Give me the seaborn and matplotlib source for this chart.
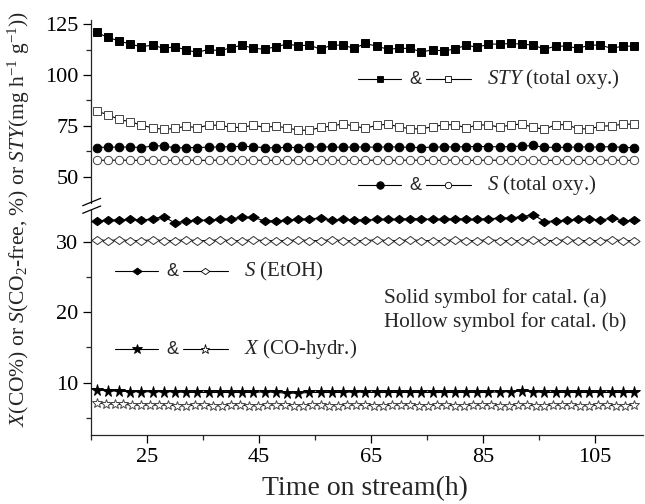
import numpy as np
import pandas as pd
import matplotlib
matplotlib.use("Agg")
import matplotlib.pyplot as plt
from matplotlib.lines import Line2D
import seaborn as sns

# ---------------- data ----------------
time_h = np.arange(16, 113, 2)            # sampling times, catal. (a)/(b)
time_conv_b = np.linspace(16, 112, 61)    # denser sampling of X(CO) for catal. (b)

sty_a = [121.0, 118.5, 116.8, 115.2, 113.9, 114.7, 113.1, 113.9, 112.3, 111.1,
         112.6, 111.9, 113.4, 114.7, 113.1, 112.7, 113.9, 115.2, 114.4, 114.7,
         112.7, 114.7, 114.7, 113.1, 115.5, 114.2, 112.7, 113.1, 113.1, 111.4,
         112.3, 111.9, 112.7, 114.7, 113.6, 115.2, 115.2, 115.5, 115.2, 114.7,
         112.7, 114.2, 114.2, 113.1, 114.7, 114.7, 113.1, 114.2, 114.2]
sty_b = [82.2, 80.5, 78.1, 77.0, 75.3, 74.0, 73.2, 73.7, 74.8, 74.0,
         75.3, 75.3, 74.2, 74.2, 75.3, 74.2, 74.8, 74.0, 72.8, 72.8,
         74.2, 74.8, 76.0, 74.8, 73.8, 75.2, 75.8, 74.5, 73.5, 73.5,
         74.5, 75.5, 75.5, 74.0, 75.3, 75.5, 74.2, 75.5, 75.8, 74.3,
         73.2, 75.6, 75.5, 73.5, 73.5, 74.8, 75.0, 75.8, 75.8]
sel_oxy_a = [64.3, 64.5, 64.5, 64.6, 64.3, 65.0, 65.2, 64.0, 64.3, 64.3,
             64.5, 64.6, 64.7, 64.9, 64.7, 64.2, 64.2, 64.4, 64.3, 64.5,
             64.6, 64.6, 64.4, 64.6, 64.5, 64.5, 64.6, 64.6, 64.4, 64.3,
             64.5, 64.6, 64.6, 64.7, 64.8, 64.8, 64.6, 64.8, 65.0, 65.3,
             64.4, 64.4, 64.4, 64.6, 64.6, 64.5, 64.8, 64.3, 64.3]
sel_oxy_b = [58.1, 58.0, 58.1, 58.0, 58.0, 58.1, 58.0, 58.0, 58.1, 58.0,
             58.0, 58.1, 58.0, 58.0, 58.1, 58.0, 58.0, 58.0, 58.1, 58.0,
             58.0, 58.1, 58.0, 58.0, 58.0, 58.1, 58.0, 58.0, 58.1, 58.0,
             58.0, 58.0, 58.1, 58.0, 58.0, 58.1, 58.0, 58.0, 58.0, 58.1,
             58.0, 58.0, 58.1, 58.0, 58.0, 58.0, 58.1, 58.0, 58.0]
sel_etoh_a = [33.0, 33.1, 33.1, 33.2, 33.1, 33.3, 33.6, 32.7, 33.0, 33.1,
              33.1, 33.2, 33.3, 33.5, 33.5, 33.0, 33.0, 33.1, 33.2, 33.3,
              33.4, 33.1, 33.2, 33.1, 33.1, 33.2, 33.2, 33.2, 33.3, 33.3,
              33.2, 33.2, 33.3, 33.2, 33.2, 33.3, 33.4, 33.4, 33.6, 33.9,
              32.9, 33.0, 33.1, 33.2, 33.3, 33.1, 33.4, 33.0, 33.1]
sel_etoh_b = [30.3, 30.2, 30.3, 30.2, 30.2, 30.3, 30.2, 30.2, 30.3, 30.2,
              30.2, 30.3, 30.2, 30.2, 30.3, 30.2, 30.2, 30.2, 30.3, 30.2,
              30.2, 30.3, 30.2, 30.2, 30.2, 30.3, 30.2, 30.2, 30.3, 30.2,
              30.2, 30.2, 30.3, 30.2, 30.2, 30.3, 30.2, 30.2, 30.2, 30.3,
              30.2, 30.2, 30.3, 30.2, 30.2, 30.2, 30.3, 30.2, 30.2]
conv_a = [9.0, 8.8, 8.8, 8.7, 8.7, 8.7, 8.7, 8.7, 8.6, 8.6,
          8.6, 8.6, 8.6, 8.6, 8.6, 8.7, 8.6, 8.5, 8.5, 8.6,
          8.6, 8.6, 8.6, 8.7, 8.6, 8.6, 8.6, 8.6, 8.6, 8.6,
          8.6, 8.6, 8.6, 8.6, 8.6, 8.6, 8.7, 8.7, 8.8, 8.7,
          8.6, 8.6, 8.6, 8.6, 8.6, 8.6, 8.6, 8.6, 8.6]
conv_b = [7.1, 7.0, 6.9, 6.9, 6.8, 6.8, 6.8, 6.8, 6.8, 6.7,
          6.7, 6.8, 6.8, 6.7, 6.7, 6.8, 6.8, 6.7, 6.7, 6.8,
          6.8, 6.8, 6.7, 6.7, 6.8, 6.8, 6.7, 6.7, 6.8, 6.8,
          6.8, 6.7, 6.7, 6.8, 6.8, 6.8, 6.7, 6.7, 6.8, 6.8,
          6.7, 6.7, 6.8, 6.8, 6.8, 6.7, 6.7, 6.8, 6.8, 6.7,
          6.7, 6.8, 6.8, 6.8, 6.7, 6.7, 6.8, 6.8, 6.7, 6.7, 6.8]

x_ticks = [25, 45, 65, 85, 105]
x_minor = [15, 35, 55, 75, 95]
y_ticks_low = [10, 20, 30]
y_minor_low = [5, 15, 25]
y_ticks_high = [50, 75, 100, 125]
y_minor_high = [62.5, 87.5, 112.5]

# ---------------- style ----------------
sns.set_style("ticks")
plt.rcParams["font.family"] = ["Liberation Serif", "DejaVu Serif"]
plt.rcParams["mathtext.fontset"] = "custom"
plt.rcParams["mathtext.rm"] = "Liberation Serif"
plt.rcParams["mathtext.it"] = "Liberation Serif:italic"
plt.rcParams["mathtext.bf"] = "Liberation Serif:bold"

W, H = 645, 504
fig = plt.figure(figsize=(W / 100, H / 100), dpi=100)


def fx(px):
    return px / W


def fy(py):
    return 1 - py / H


ax_lo = fig.add_axes([fx(91), fy(435), fx(643) - fx(91), fy(210) - fy(435)])
ax_hi = fig.add_axes([fx(91), fy(203), fx(643) - fx(91), fy(20) - fy(203)])

diamond = [(-1, 0), (0, 0.73), (1, 0), (0, -0.73), (-1, 0)]
LW = 0.8


def draw(ax, x, y, marker, ms, filled, edge="k"):
    sns.lineplot(x=x, y=y, ax=ax, color="k", lw=LW, marker=marker, ms=ms,
                 markerfacecolor="k" if filled else "white",
                 markeredgecolor=edge, markeredgewidth=0.7,
                 errorbar=None, clip_on=False, zorder=3)


draw(ax_hi, time_h, sty_a, "s", 5.5, True)
draw(ax_hi, time_h, sty_b, "s", 5.3, False, "#444444")
draw(ax_hi, time_h, sel_oxy_a, "o", 6.2, True)
draw(ax_hi, time_h, sel_oxy_b, "o", 6.0, False, "#444444")
draw(ax_lo, time_h, sel_etoh_a, diamond, 8.2, True)
draw(ax_lo, time_h, sel_etoh_b, diamond, 8.0, False, "#333333")
draw(ax_lo, time_h, conv_a, "*", 8.5, True)
draw(ax_lo, time_conv_b, conv_b, "*", 7.2, False, "#444444")

for ax in (ax_lo, ax_hi):
    ax.set_xlim(15, 113.6)
    ax.set_xlabel("")
    ax.set_ylabel("")
    ax.spines["top"].set_visible(False)
    ax.spines["right"].set_visible(False)
    ax.spines["left"].set_linewidth(0.9)
    ax.spines["bottom"].set_linewidth(0.9)
    ax.tick_params(which="major", direction="out", length=6, width=0.9,
                   labelsize=16, colors="k", pad=3)
    ax.tick_params(which="minor", direction="out", length=3.5, width=0.9)
    ax.set_facecolor("none")

ax_lo.set_ylim(2.55, 34.55)
ax_lo.set_yticks(y_ticks_low)
ax_lo.set_yticks(y_minor_low, minor=True)
ax_lo.set_xticks(x_ticks)
ax_lo.set_xticks(x_minor, minor=True)

ax_hi.set_ylim(37.0, 127.06)
ax_hi.set_yticks(y_ticks_high)
ax_hi.set_yticks(y_minor_high, minor=True)
ax_hi.spines["bottom"].set_visible(False)
ax_hi.tick_params(axis="x", which="both", bottom=False, labelbottom=False)

# axis-break marks
for (x0, y0, x1, y1) in [(82.7, 205.7, 100.7, 198.3), (82.7, 213.3, 100.7, 206.0)]:
    fig.add_artist(Line2D([fx(x0), fx(x1)], [fy(y0), fy(y1)],
                          transform=fig.transFigure, color="k", lw=0.9))

# axis labels
fig.text(fx(365), fy(489), "Time on stream(h)", ha="center", va="center", fontsize=20)
fig.text(fx(19), fy(219),
         r"$X$(CO%) or $S$(CO$_2$-free, %) or $STY$(mg h$^{-1}$ g$^{-1}$))",
         rotation=90, ha="center", va="center", fontsize=15.5)


# ---------------- custom legend ----------------
def key(x0, x1, xm, y, marker, ms, filled):
    fig.add_artist(Line2D([fx(x0), fx(x1)], [fy(y), fy(y)], transform=fig.transFigure,
                          color="k", lw=LW))
    fig.add_artist(Line2D([fx(xm)], [fy(y)], transform=fig.transFigure, color="k",
                          marker=marker, ms=ms, lw=0,
                          markerfacecolor="k" if filled else "white",
                          markeredgecolor="k", markeredgewidth=0.6))


def legend_row(xa, y, marker, ms_a, ms_b, label):
    key(xa, xa + 43, xa + 22, y, marker, ms_a, True)
    fig.text(fx(xa + 57), fy(y), "&", ha="center", va="center",
             fontsize=13, family=["Liberation Sans", "DejaVu Sans"])
    key(xa + 68, xa + 113, xa + 90, y, marker, ms_b, False)
    fig.text(fx(xa + 129), fy(y), label, ha="left", va="center", fontsize=15)


legend_row(358, 79, "s", 5.0, 4.5, r"$STY$ (total oxy.)")
legend_row(358, 185, "o", 5.4, 4.6, r"$S$ (total oxy.)")
legend_row(115, 271, diamond, 6.8, 6.2, r"$S$ (EtOH)")
legend_row(115, 349, "*", 7.5, 6.8, r"$X$ (CO-hydr.)")

fig.text(fx(384), fy(298), "Solid symbol for catal. (a)", ha="left", va="center", fontsize=15.3)
fig.text(fx(384), fy(322), "Hollow symbol for catal. (b)", ha="left", va="center", fontsize=15.3)

fig.savefig("out.png", dpi=100)
